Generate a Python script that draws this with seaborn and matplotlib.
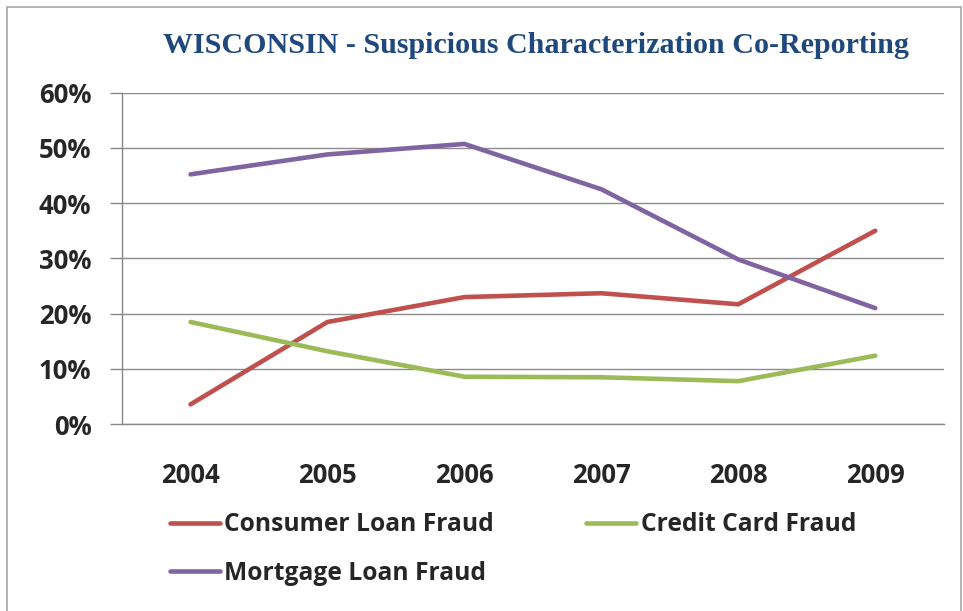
import pandas as pd
import seaborn as sns
import matplotlib.pyplot as plt
from matplotlib.patches import Rectangle

# values (percent)
years = ['2004', '2005', '2006', '2007', '2008', '2009']
consumer = [3.6, 18.5, 23.0, 23.7, 21.7, 35.0]
credit = [18.5, 13.2, 8.6, 8.5, 7.8, 12.4]
mortgage = [45.2, 48.8, 50.7, 42.5, 29.8, 21.0]
series_names = ['Consumer Loan Fraud', 'Credit Card Fraud', 'Mortgage Loan Fraud']
colors = ['#C0504D', '#9BBB59', '#8064A2']

df = pd.DataFrame({
    'year': years * 3,
    'share': consumer + credit + mortgage,
    'series': [s for s in series_names for _ in years],
})

sns.set_style('white')
plt.rcParams['font.family'] = ['Open Sans', 'DejaVu Sans']

fig = plt.figure(figsize=(9.63, 6.11), dpi=100)
ax = fig.add_axes([0.1267, 0.3056, 0.8533, 0.543])

sns.lineplot(data=df, x='year', y='share', hue='series', hue_order=series_names,
             palette=colors, linewidth=3.3, ax=ax, sort=False)

ax.set_xlim(-0.5, 5.5)
ax.set_ylim(0, 60)
ax.set_yticks(range(0, 61, 10))
ax.set_yticklabels([f'{v}%' for v in range(0, 61, 10)], fontsize=18.5, fontweight='bold')
ax.set_xticks(range(len(years)))
ax.set_xticklabels(years, fontsize=18.5, fontweight='bold')
ax.set_xticks([i - 0.5 for i in range(len(years) + 1)], minor=True)
ax.tick_params(axis='x', which='major', length=0, pad=27)
ax.tick_params(axis='x', which='minor', length=8, color='#888888', width=1, direction='out')
ax.tick_params(axis='y', length=9, color='#888888', width=1, direction='out', pad=13, left=True)
ax.grid(axis='y', color='#8c8c8c', linewidth=1)
ax.set_axisbelow(True)
for side in ['top', 'right']:
    ax.spines[side].set_visible(False)
for side in ['left', 'bottom']:
    ax.spines[side].set_color('#888888')
    ax.spines[side].set_linewidth(1)
ax.set_xlabel('')
ax.set_ylabel('')

# legend fills row by row in the reference: reorder for column-wise filling
handles, labels = ax.get_legend_handles_labels()
order = [0, 2, 1]
ax.legend([handles[i] for i in order], [labels[i] for i in order],
          loc='upper left', bbox_to_anchor=(0.058, -0.265), ncol=2, frameon=False,
          prop={'weight': 'bold', 'size': 17.7}, handlelength=2.03, handletextpad=0.2,
          columnspacing=3.74, labelspacing=0.95, borderaxespad=0, borderpad=0)

fig.text(0.557, 0.926, 'WISCONSIN - Suspicious Characterization Co-Reporting',
         ha='center', va='center', fontsize=21.6, fontweight='bold',
         family='Liberation Serif', color='#1F497D')

fig.patches.append(Rectangle((0.0075, -0.01), 0.99, 0.9985, transform=fig.transFigure,
                             fill=False, edgecolor='#a6a6a6', linewidth=1.2))

fig.savefig('out.png', dpi=100)
